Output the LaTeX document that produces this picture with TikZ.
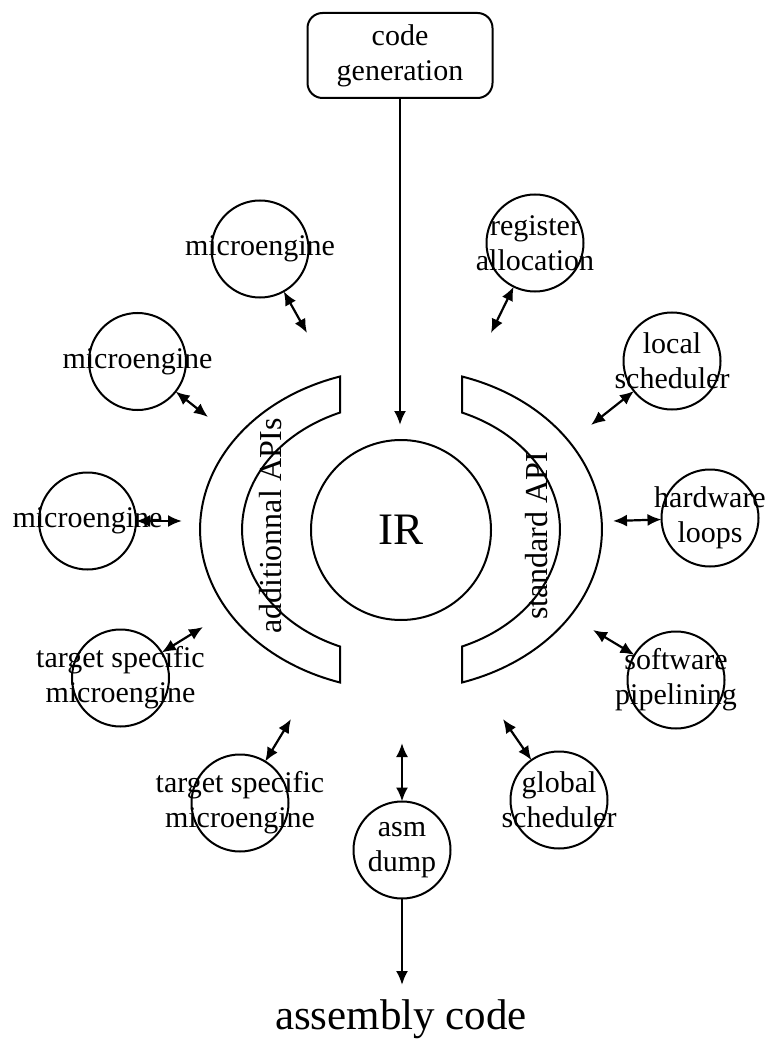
\documentclass[tikz,border=0pt]{standalone}
\usepackage{fontspec}
\setmainfont{Liberation Serif}
\usetikzlibrary{arrows.meta}
\begin{document}
\begin{tikzpicture}[x=1pt,y=-1pt,
  >={Latex[length=14pt,width=12pt]},
  every node/.style={inner sep=0pt, outer sep=0pt},
  lbl/.style={align=center, font=\fontsize{30}{35}\selectfont},
  sat/.style={circle, draw, line width=2pt, minimum size=97pt},
  link/.style={line width=2.2pt, <->},
  feed/.style={line width=2.2pt, ->},
  band/.style={draw, line width=2pt, line join=miter},
  sidelbl/.style={rotate=90, font=\fontsize{32}{38}\selectfont},
]
\useasboundingbox (0,0) rectangle (766,1040);

% central IR block
\node[circle, draw, line width=2pt, minimum size=180pt,
      font=\fontsize{45}{50}\selectfont] (ir) at (401,530) {IR};

% left API band
\path[band] (340,376.5)
  arc[start angle=107.7, end angle=252.3, x radius=201pt, y radius=160.6pt]
  -- (340,646.5)
  arc[start angle=247.4, end angle=112.6, x radius=159pt, y radius=126.7pt]
  -- cycle;
% right API band
\path[band] (462,376.5)
  arc[start angle=72.3, end angle=-72.3, x radius=201pt, y radius=160.6pt]
  -- (462,646.5)
  arc[start angle=-67.4, end angle=67.4, x radius=159pt, y radius=126.7pt]
  -- cycle;
\node[sidelbl] (addl) at (271,526) {additionnal APIs};
\node[sidelbl] (std) at (537,536) {standard API};

% code generation input
\node[draw, rounded corners=15pt, line width=2pt, minimum width=185pt,
      minimum height=85pt, lbl] (cg) at (400,55.5) {code\\generation};
\coordinate (cgend) at (400,425);
\draw[feed] (cg) -- (cgend);

% satellite circles
\node[sat] (me1) at (260,249) {};
\node[lbl] (me1t) at (me1.center) {microengine};
\node[sat] (reg) at (535,243) {};
\node[lbl] (regt) at (reg.center) {register\\allocation};
\node[sat] (me2) at (137.5,361.5) {};
\node[lbl] (me2t) at (me2.center) {microengine};
\node[sat] (loc) at (672,361) {};
\node[lbl] (loct) at (loc.center) {local\\scheduler};
\node[sat] (me3) at (87.5,521) {};
\node[lbl] (me3t) at (me3.center) {microengine};
\node[sat] (hw) at (710,518) {};
\node[lbl] (hwt) at (hw.center) {hardware\\loops};
\node[sat] (ts1) at (120.5,678) {};
\node[lbl] (ts1t) at (ts1.center) {target specific\\microengine};
\node[sat] (sw) at (676,680) {};
\node[lbl] (swt) at (sw.center) {software\\pipelining};
\node[sat] (ts2) at (240,803) {};
\node[lbl] (ts2t) at (ts2.center) {target specific\\microengine};
\node[sat] (asm) at (402,850) {};
\node[lbl] (asmt) at (asm.center) {asm\\dump};
\node[sat] (gs) at (559,800) {};
\node[lbl] (gst) at (gs.center) {global\\scheduler};

% links towards the API bands
\coordinate (me1e) at (307,333);
\coordinate (rege) at (491,333);
\coordinate (me2e) at (208,417);
\coordinate (loce) at (591,425);
\coordinate (me3e) at (182,521);
\coordinate (hwe) at (613,521);
\coordinate (ts1e) at (203,627);
\coordinate (swe) at (593,630);
\coordinate (ts2e) at (291,719);
\coordinate (gse) at (503,719);
\coordinate (asme) at (402,743);
\draw[link] (me1) -- (me1e);
\draw[link] (reg) -- (rege);
\draw[link] (me2) -- (me2e);
\draw[link] (loc) -- (loce);
\draw[link] (me3) -- (me3e);
\draw[link] (hw) -- (hwe);
\draw[link] (ts1) -- (ts1e);
\draw[link] (sw) -- (swe);
\draw[link] (ts2) -- (ts2e);
\draw[link] (gs) -- (gse);
\draw[link] (asm) -- (asme);

% output
\node[font=\fontsize{43}{50}\selectfont] (out) at (401,1019) {assembly code};
\coordinate (asmout) at (402,985);
\draw[feed] (asm) -- (asmout);
\end{tikzpicture}
\end{document}
